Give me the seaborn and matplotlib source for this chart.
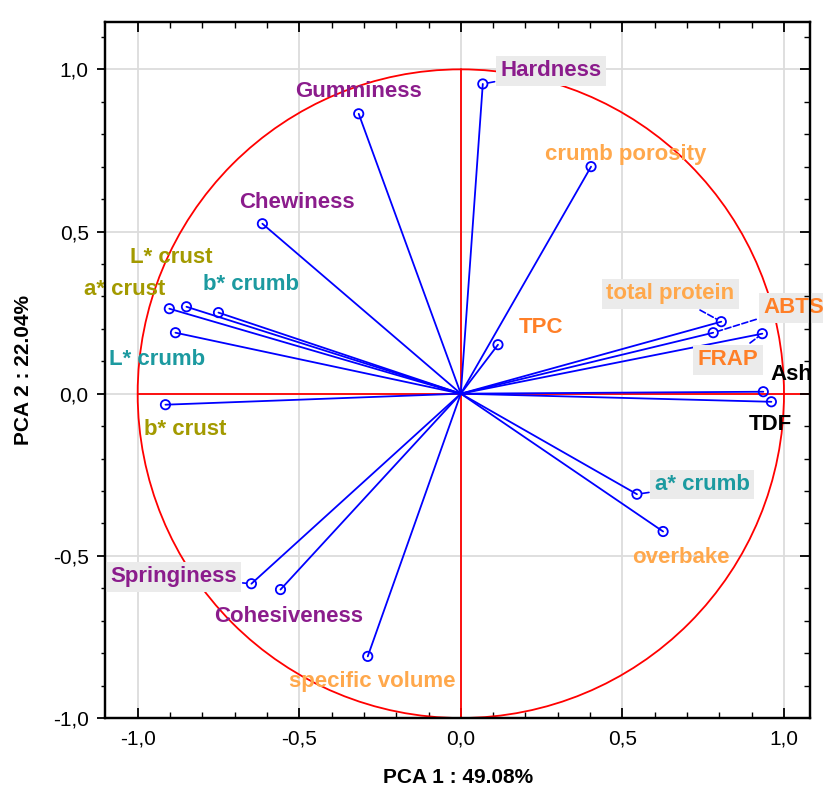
import numpy as np
import pandas as pd
import matplotlib
matplotlib.use("Agg")
import matplotlib.pyplot as plt
from matplotlib.patches import Circle
import seaborn as sns

# loadings
variables = ["Hardness", "Gumminess", "Chewiness", "crumb porosity",
             "L* crust", "a* crust", "b* crumb", "L* crumb", "b* crust",
             "TPC", "total protein", "ABTS", "FRAP", "Ash", "TDF",
             "a* crumb", "overbake", "Springiness", "Cohesiveness",
             "specific volume"]
pc1 = [0.068, -0.316, -0.614, 0.403,
       -0.849, -0.902, -0.750, -0.883, -0.914,
       0.115, 0.806, 0.781, 0.933, 0.936, 0.961,
       0.545, 0.626, -0.648, -0.558,
       -0.288]
pc2 = [0.955, 0.863, 0.524, 0.700,
       0.268, 0.262, 0.250, 0.188, -0.034,
       0.151, 0.222, 0.188, 0.185, 0.006, -0.025,
       -0.310, -0.425, -0.586, -0.604,
       -0.810]
groups = ["texture", "texture", "texture", "bake",
          "crust", "crust", "crumb", "crumb", "crust",
          "anti", "bake", "anti", "anti", "comp", "comp",
          "crumb", "bake", "texture", "texture",
          "bake"]

df = pd.DataFrame({"var": variables, "PC1": pc1, "PC2": pc2, "group": groups})

# label placement (layout only)
label_pos = {
    "Hardness": (0.279, 0.995), "Gumminess": (-0.316, 0.931),
    "Chewiness": (-0.508, 0.589), "crumb porosity": (0.511, 0.737),
    "L* crust": (-0.896, 0.419), "a* crust": (-1.041, 0.320),
    "b* crumb": (-0.648, 0.336), "L* crumb": (-0.939, 0.105),
    "b* crust": (-0.852, -0.111), "TPC": (0.248, 0.203),
    "total protein": (0.648, 0.308), "ABTS": (1.030, 0.265),
    "FRAP": (0.827, 0.105), "Ash": (1.023, 0.059), "TDF": (0.958, -0.096),
    "a* crumb": (0.747, -0.280), "overbake": (0.682, -0.505),
    "Springiness": (-0.889, -0.564), "Cohesiveness": (-0.533, -0.687),
    "specific volume": (-0.273, -0.888),
}
colors = {"texture": "#8B1C8C", "bake": "#FFA84C", "crust": "#A39A00",
          "crumb": "#1C9AA0", "anti": "#FF7F27", "comp": "#000000"}
boxed = ["Hardness", "total protein", "ABTS", "FRAP", "a* crumb", "Springiness"]
dashed = ["total protein", "ABTS", "FRAP"]
leaders = ["Hardness", "a* crumb", "Springiness"]

sns.set_theme(style="white")
plt.rcParams["font.family"] = ["Liberation Sans", "DejaVu Sans"]
plt.rcParams["text.color"] = "black"
plt.rcParams["axes.labelcolor"] = "black"
plt.rcParams["xtick.color"] = "black"
plt.rcParams["ytick.color"] = "black"

fig = plt.figure(figsize=(8.23, 8.0), dpi=100)
ax = fig.add_axes([0.128, 0.1025, 0.856, 0.87])

ax.set_xlim(-1.1, 1.08)
ax.set_ylim(-1.0, 1.146)

for v in [-1.0, -0.5, 0.0, 0.5, 1.0]:
    ax.axvline(v, color="#dcdcdc", lw=1.3, zorder=0)
    ax.axhline(v, color="#dcdcdc", lw=1.3, zorder=0)

ax.add_patch(Circle((0, 0), 1.0, fill=False, color="red", lw=1.3, zorder=1))
ax.plot([0, 0], [-1, 1], color="red", lw=1.3, zorder=1)
ax.plot([-1, 1.1], [0, 0], color="red", lw=1.3, zorder=1)

for _, r in df.iterrows():
    ax.plot([0, r.PC1], [0, r.PC2], color="blue", lw=1.3, zorder=2)
sns.scatterplot(data=df, x="PC1", y="PC2", ax=ax, marker="o", s=45,
                facecolor="none", edgecolor="blue", linewidth=1.3,
                zorder=3, legend=False)

for _, r in df.iterrows():
    tx, ty = label_pos[r["var"]]
    bbox = None
    if r["var"] in boxed:
        bbox = dict(boxstyle="square,pad=0.2", fc="#ebebeb", ec="none")
    arrow = None
    if r["var"] in dashed:
        arrow = dict(arrowstyle="-", color="blue", lw=1.2, ls="--",
                     shrinkA=2, shrinkB=4)
    elif r["var"] in leaders:
        arrow = dict(arrowstyle="-", color="blue", lw=1.2,
                     shrinkA=1, shrinkB=4)
    ax.annotate(r["var"], xy=(r.PC1, r.PC2), xytext=(tx, ty),
                ha="center", va="center", fontsize=16, fontweight="bold",
                color=colors[r["group"]], bbox=bbox, arrowprops=arrow,
                zorder=4)

ticks = [-1.0, -0.5, 0.0, 0.5, 1.0]
ax.set_xticks(ticks)
ax.set_yticks(ticks)
ax.set_xticklabels([f"{t:.1f}".replace(".", ",") for t in ticks])
ax.set_yticklabels([f"{t:.1f}".replace(".", ",") for t in ticks])
ax.set_xticks(np.arange(-1.0, 1.01, 0.1), minor=True)
ax.set_yticks(np.arange(-1.0, 1.11, 0.1), minor=True)
ax.tick_params(axis="x", which="both", direction="in", top=True, bottom=True,
               labelsize=15, pad=8)
ax.tick_params(axis="x", which="major", length=7, width=1.3)
ax.tick_params(axis="x", which="minor", length=4, width=1.0)
ax.tick_params(axis="y", which="both", direction="out", left=True,
               labelsize=15, pad=6)
ax.tick_params(axis="y", which="major", length=6, width=1.3)
ax.tick_params(axis="y", which="minor", length=3, width=1.0)

ax2 = ax.twinx()
ax2.set_ylim(ax.get_ylim())
ax2.set_yticks(ticks)
ax2.set_yticks(np.arange(-1.0, 1.11, 0.1), minor=True)
ax2.tick_params(axis="y", which="both", direction="in", labelright=False)
ax2.tick_params(axis="y", which="major", length=7, width=1.3)
ax2.tick_params(axis="y", which="minor", length=4, width=1.0)
ax2.grid(False)

for a in (ax, ax2):
    for s in a.spines.values():
        s.set_color("black")
        s.set_linewidth(1.6)

ax.set_xlabel("PCA 1 : 49.08%", fontsize=15, fontweight="bold", labelpad=14)
ax.set_ylabel("PCA 2 : 22.04%", fontsize=15, fontweight="bold", labelpad=14)

fig.savefig("out.png", dpi=100)
